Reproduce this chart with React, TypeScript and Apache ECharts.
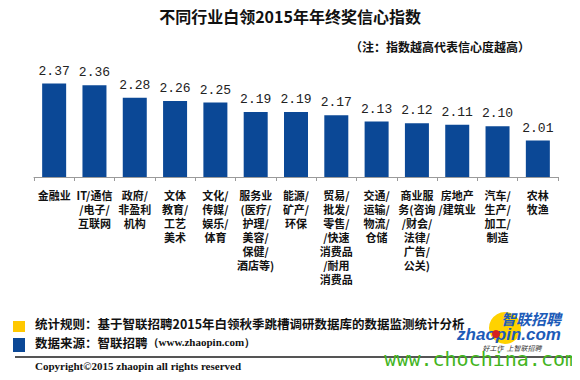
import React, { useEffect, useRef } from "react";
import * as echarts from "echarts";

const categories = [
  "金融业",
  "IT/通信\n/电子/\n互联网",
  "政府/\n非盈利\n机构",
  "文体\n教育/\n工艺\n美术",
  "文化/\n传媒/\n娱乐/\n体育",
  "服务业\n(医疗/\n护理/\n美容/\n保健/\n酒店等)",
  "能源/\n矿产/\n环保",
  "贸易/\n批发/\n零售/\n/快速\n消费品\n/耐用\n消费品",
  "交通/\n运输/\n物流/\n仓储",
  "商业服\n务(咨询\n/财会/\n法律/\n广告/\n公关)",
  "房地产\n/建筑业",
  "汽车/\n生产/\n加工/\n制造",
  "农林\n牧渔",
];
const values = [2.37, 2.36, 2.28, 2.26, 2.25, 2.19, 2.19, 2.17, 2.13, 2.12, 2.11, 2.1, 2.01];

const titleText = "不同行业白领2015年年终奖信心指数";
const noteText = "（注：指数越高代表信心度越高）";
const ruleText = "统计规则：基于智联招聘2015年白领秋季跳槽调研数据库的数据监测统计分析";
const sourceLabel = "数据来源：智联招聘";
const sourceUrl = "（www.zhaopin.com）";
const copyrightText = "Copyright©2015 zhaopin all rights reserved";

const CJK = '"Noto Sans CJK SC", "Noto Sans", sans-serif';
const SERIF = '"Liberation Serif", "DejaVu Serif", serif';

export default function App() {
  const ref = useRef<HTMLDivElement>(null);
  useEffect(() => {
    if (!ref.current) return;
    const chart = echarts.init(ref.current, undefined, { renderer: "svg" });
    chart.setOption({
      animation: false,
      backgroundColor: "#ffffff",
      title: {
        text: titleText,
        left: "center",
        top: 3,
        textStyle: { fontFamily: CJK, fontSize: 16, fontWeight: "bold", color: "#111" },
      },
      grid: { left: 34, right: 22, top: 63, bottom: 203, containLabel: false },
      xAxis: {
        type: "category",
        data: categories,
        axisLine: { lineStyle: { color: "#9a9a9a", width: 1 } },
        axisTick: { show: true, length: 4, lineStyle: { color: "#9a9a9a" } },
        axisLabel: {
          interval: 0,
          margin: 11,
          fontFamily: CJK,
          fontSize: 11,
          fontWeight: "bold",
          lineHeight: 14,
          color: "#111",
        },
      },
      yAxis: {
        type: "value",
        min: 1.78,
        max: 2.5,
        show: false,
        splitLine: { show: false },
      },
      series: [
        {
          type: "bar",
          data: values,
          barWidth: 24,
          itemStyle: { color: "#0B4896" },
          label: {
            show: true,
            position: "top",
            distance: 6,
            fontFamily: '"Liberation Mono", "DejaVu Sans Mono", monospace',
            fontSize: 13,
            color: "#222",
            formatter: (p: any) => p.value.toFixed(2),
          },
        },
      ],
      graphic: [
        {
          type: "text",
          right: 50,
          top: 40,
          style: { text: noteText, fontFamily: CJK, fontSize: 12, fontWeight: "bold", fill: "#111" },
        },
        { type: "rect", shape: { x: 13, y: 321, width: 12, height: 11 }, style: { fill: "#FFC800" } },
        { type: "rect", shape: { x: 13, y: 338, width: 12, height: 14 }, style: { fill: "#0B4896" } },
        {
          type: "text",
          x: 35,
          y: 323,
          style: { text: ruleText, fontFamily: CJK, fontSize: 12.5, fontWeight: "bold", fill: "#111", verticalAlign: "middle" },
        },
        {
          type: "text",
          x: 35,
          y: 342,
          style: {
            text: "{a|" + sourceLabel + "}{b|" + sourceUrl + "}",
            verticalAlign: "middle",
            rich: {
              a: { fontFamily: CJK, fontSize: 12.5, fontWeight: "bold", fill: "#111" },
              b: { fontFamily: SERIF, fontSize: 11, fontWeight: "bold", fill: "#111" },
            },
          },
        },
        { type: "line", shape: { x1: 15, y1: 357, x2: 575, y2: 357 }, style: { stroke: "#555", lineWidth: 2 } },
        {
          type: "text",
          x: 35,
          y: 366,
          style: { text: copyrightText, fontFamily: SERIF, fontSize: 11, fontWeight: "bold", fill: "#111", verticalAlign: "middle" },
        },
        // logo
        { type: "circle", shape: { cx: 505, cy: 328, r: 16 }, style: { fill: "#FFD200" } },
        {
          type: "text",
          x: 531,
          y: 318,
          style: { text: "智联招聘", fontFamily: CJK, fontSize: 15, fontWeight: "bold", fontStyle: "italic", fill: "#1D5BB8", align: "center", verticalAlign: "middle" },
        },
        {
          type: "text",
          x: 509,
          y: 334,
          style: { text: "zhaopin.com", fontFamily: '"Liberation Sans", Arial, sans-serif', fontSize: 17, fontWeight: "bold", fontStyle: "italic", fill: "#1D5BB8", align: "center", verticalAlign: "middle" },
        },
        { type: "circle", shape: { cx: 496, cy: 334, r: 4 }, style: { fill: "#D42020" } },
        {
          type: "text",
          x: 512,
          y: 348,
          style: { text: "好工作  上智联招聘", fontFamily: CJK, fontSize: 7, fontStyle: "italic", fill: "#333", align: "center", verticalAlign: "middle" },
        },
        {
          type: "text",
          x: 577,
          y: 359,
          style: { text: "www.chochina.com", fontFamily: '"DejaVu Sans Mono", monospace', fontSize: 20, fill: "#43B51E", align: "right", verticalAlign: "middle" },
        },
      ],
    });
    return () => chart.dispose();
  }, []);
  return <div ref={ref} style={{ width: 580, height: 380, margin: -8 }} />;
}
